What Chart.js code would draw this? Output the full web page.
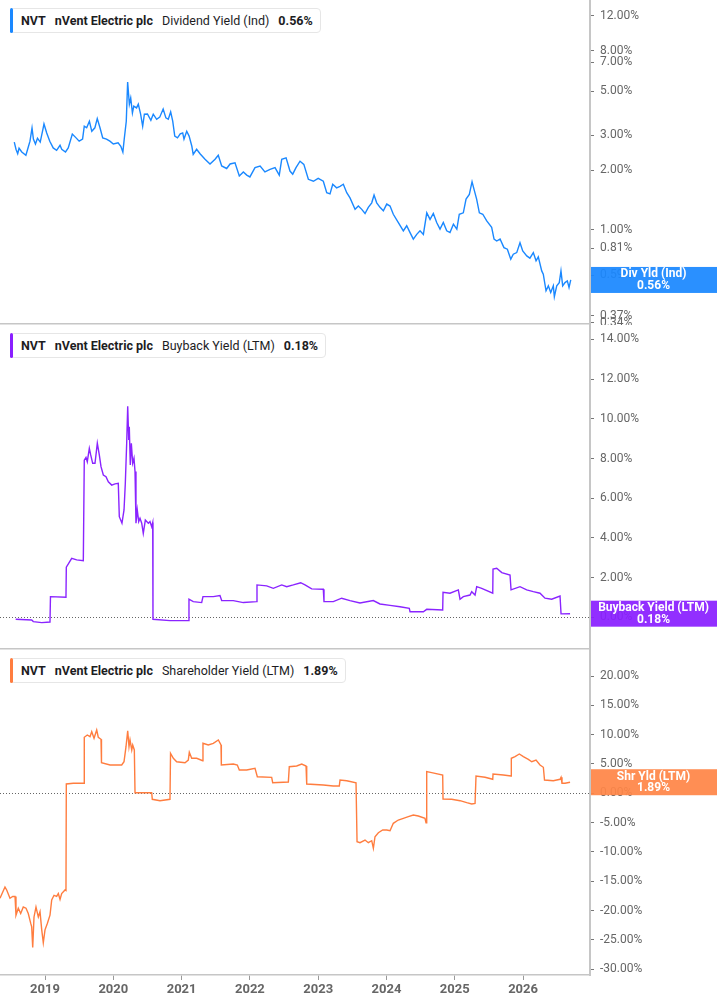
<!DOCTYPE html>
<html>
<head>
<meta charset="utf-8">
<title>NVT yields</title>
<script src="https://cdn.jsdelivr.net/npm/chart.js@4.4.1/dist/chart.umd.min.js"></script>
<style>
  html, body { margin: 0; padding: 0; background: #fff; }
  body { width: 717px; height: 1005px; position: relative; overflow: hidden; font-family: Roboto, "Open Sans", sans-serif; }
  .panel { position: absolute; left: 0; width: 717px; }
  .legend { position: absolute; left: 10px; height: 25px; box-sizing: border-box; border: 1px solid #e6e6e6; border-radius: 4px;
            background: #fff; display: flex; align-items: center; padding: 0 7px 0 10px; font-size: 12.5px; color: #1d1d1f; white-space: nowrap; }
  .legend i { position: absolute; left: -1px; top: -1px; bottom: -1px; width: 3px; border-radius: 2px; }
  .legend b, .legend span { margin-right: 9px; }
  .legend b { font-weight: 700; }
  .legend span { font-weight: 400; }
  .legend .v { margin-right: 0; }
</style>
</head>
<body>
<div class="panel" style="top:0;height:325px"><canvas id="divChart"></canvas></div>
<div class="panel" style="top:325px;height:325px"><canvas id="bbChart"></canvas></div>
<div class="panel" style="top:650px;height:355px"><canvas id="shChart"></canvas></div>

<div class="legend" style="top:8px"><i style="background:#1a88ff"></i><b>NVT</b><b>nVent Electric plc</b><span>Dividend Yield (Ind)</span><b class="v">0.56%</b></div>
<div class="legend" style="top:333px"><i style="background:#8a1fff"></i><b>NVT</b><b>nVent Electric plc</b><span>Buyback Yield (LTM)</span><b class="v">0.18%</b></div>
<div class="legend" style="top:658px"><i style="background:#ff7d3f"></i><b>NVT</b><b>nVent Electric plc</b><span>Shareholder Yield (LTM)</span><b class="v">1.89%</b></div>

<script>
// x axis (decimal years)
const yearTicks = [2019, 2020, 2021, 2022, 2023, 2024, 2025, 2026];

// dividend yield (ind), %
const divYears = [
  2018.55,2018.575,2018.60,2018.62,2018.66,2018.72,2018.75,2018.78,2018.81,2018.83,
  2018.86,2018.89,2018.93,2018.97,2018.985,2019.025,2019.07,2019.12,2019.17,2019.22,
  2019.245,2019.30,2019.34,2019.40,2019.455,2019.50,2019.55,2019.575,2019.61,2019.65,
  2019.685,2019.73,2019.765,2019.805,2019.845,2019.90,2019.95,2020.00,2020.07,2020.11,
  2020.14,2020.16,2020.19,2020.21,2020.235,2020.255,2020.28,2020.30,2020.34,2020.366,
  2020.40,2020.43,2020.455,2020.50,2020.55,2020.585,2020.635,2020.68,2020.73,2020.77,
  2020.805,2020.84,2020.87,2020.90,2020.94,2020.98,2021.016,2021.035,2021.075,2021.11,
  2021.15,2021.17,2021.22,2021.27,2021.343,2021.416,2021.49,2021.537,2021.587,2021.66,
  2021.71,2021.782,2021.845,2021.904,2021.954,2022.00,2022.075,2022.15,2022.22,2022.295,
  2022.368,2022.43,2022.466,2022.53,2022.587,2022.627,2022.675,2022.734,2022.79,2022.856,
  2022.93,2023.00,2023.075,2023.125,2023.173,2023.213,2023.27,2023.32,2023.368,2023.418,
  2023.466,2023.54,2023.588,2023.638,2023.686,2023.734,2023.784,2023.818,2023.857,2023.905,
  2023.954,2024.004,2024.052,2024.10,2024.174,2024.247,2024.296,2024.345,2024.393,2024.443,
  2024.491,2024.54,2024.59,2024.638,2024.686,2024.735,2024.784,2024.832,2024.882,2024.93,
  2024.98,2025.03,2025.066,2025.125,2025.165,2025.213,2025.253,2025.282,2025.32,2025.36,
  2025.41,2025.468,2025.54,2025.575,2025.614,2025.663,2025.72,2025.77,2025.82,2025.857,
  2025.907,2025.955,2025.995,2026.054,2026.10,2026.15,2026.19,2026.223,2026.273,2026.296,
  2026.336,2026.37,2026.405,2026.443,2026.458,2026.493,2026.53,2026.555,2026.58,2026.614,
  2026.648,2026.673,2026.698
];
const divValues = [
  2.77,2.55,2.42,2.58,2.47,2.38,2.58,2.80,3.26,2.87,
  2.71,2.90,2.77,3.22,3.42,3.08,2.80,2.59,2.52,2.67,
  2.55,2.47,2.59,3.04,2.91,2.80,2.87,3.33,3.27,3.53,
  3.14,3.27,3.64,3.27,2.91,2.87,2.80,2.71,2.75,2.64,
  2.47,2.87,3.53,5.56,4.30,4.62,3.88,4.20,4.12,4.30,
  3.83,3.33,3.83,3.84,3.57,3.83,3.61,3.70,4.07,3.67,
  3.61,3.93,3.53,2.97,2.91,3.05,3.08,2.87,3.14,2.97,
  2.64,2.40,2.55,2.42,2.27,2.15,2.27,2.38,2.10,2.04,
  2.15,2.18,1.87,1.96,1.89,1.85,2.06,2.10,1.96,2.02,
  2.06,1.89,2.27,2.31,1.98,1.91,2.06,2.22,2.14,1.80,
  1.76,1.82,1.76,1.54,1.52,1.70,1.63,1.66,1.70,1.54,
  1.45,1.27,1.32,1.27,1.21,1.30,1.37,1.50,1.37,1.30,
  1.25,1.35,1.32,1.20,1.09,0.99,1.05,0.97,0.90,0.95,
  0.99,0.95,1.22,1.13,1.21,1.09,1.01,1.09,0.99,0.97,
  1.07,1.01,1.20,1.22,1.43,1.51,1.75,1.60,1.43,1.22,
  1.20,1.11,1.03,0.90,0.88,0.90,0.815,0.80,0.713,0.755,
  0.769,0.863,0.784,0.740,0.721,0.769,0.699,0.732,0.622,0.599,
  0.494,0.523,0.484,0.523,0.461,0.523,0.543,0.622,0.523,0.543,
  0.554,0.513,0.56
];
const divTicks = [12, 8, 7, 5, 3, 2, 1, 0.81, 0.59, 0.37, 0.34];

// buyback yield (LTM), %
const bbYears = [
  2018.571,2018.805,2018.829,2018.952,2019.073,2019.080,2019.307,2019.312,2019.391,2019.464,
  2019.561,2019.575,2019.600,2019.619,2019.649,2019.669,2019.698,2019.732,2019.766,2019.795,
  2019.820,2019.854,2019.893,2019.927,2019.977,2020.025,2020.073,2020.088,2020.127,2020.157,
  2020.176,2020.196,2020.211,2020.226,2020.234,2020.249,2020.264,2020.284,2020.303,2020.318,
  2020.332,2020.351,2020.372,2020.391,2020.416,2020.439,2020.469,2020.513,2020.537,2020.562,
  2020.577,2020.581,2020.830,2021.098,2021.108,2021.171,2021.294,2021.313,2021.464,2021.562,
  2021.587,2021.757,2021.904,2022.100,2022.104,2022.246,2022.343,2022.466,2022.539,2022.636,
  2022.744,2022.807,2022.905,2023.075,2023.085,2023.221,2023.344,2023.466,2023.612,2023.807,
  2023.905,2024.052,2024.198,2024.334,2024.345,2024.540,2024.589,2024.823,2024.828,2024.930,
  2025.052,2025.077,2025.125,2025.223,2025.248,2025.297,2025.321,2025.394,2025.556,2025.560,
  2025.614,2025.688,2025.809,2025.824,2025.955,2026.053,2026.150,2026.248,2026.321,2026.419,
  2026.541,2026.556,2026.688
];
const bbValues = [
  -0.10,-0.14,-0.22,-0.27,-0.24,1.04,1.01,2.52,2.97,2.89,
  2.85,7.92,8.06,7.84,8.51,8.18,7.76,7.76,8.77,8.18,
  7.59,7.17,7.08,6.83,6.66,6.72,6.75,5.07,4.74,5.41,
  6.75,8.77,10.64,8.93,9.60,7.67,8.77,7.76,8.01,7.34,
  4.74,5.41,4.82,4.99,4.74,4.23,4.90,4.74,4.82,4.56,
  4.77,-0.10,-0.17,-0.17,0.91,0.79,0.74,1.04,1.04,1.09,
  0.84,0.84,0.74,0.79,1.63,1.58,1.46,1.63,1.54,1.63,
  1.74,1.63,1.43,1.41,0.79,0.79,0.96,0.84,0.72,0.84,
  0.67,0.60,0.53,0.45,0.28,0.28,0.40,0.37,1.26,1.21,
  1.38,0.91,1.04,1.12,1.29,1.12,1.54,1.46,1.21,2.43,
  2.47,2.25,2.13,1.38,1.54,1.38,1.29,1.21,0.96,0.91,
  1.07,0.17,0.18
];
const bbTicks = [0, 2, 4, 6, 8, 10, 12, 14];

// shareholder yield (LTM), %
const shYears = [
  2018.341,2018.414,2018.439,2018.487,2018.527,2018.561,2018.575,2018.609,2018.644,2018.682,
  2018.722,2018.755,2018.791,2018.805,2018.820,2018.839,2018.868,2018.902,2018.927,2018.952,
  2018.975,2019.000,2019.034,2019.073,2019.098,2019.132,2019.171,2019.195,2019.220,2019.244,
  2019.293,2019.307,2019.312,2019.414,2019.571,2019.575,2019.619,2019.659,2019.684,2019.718,
  2019.757,2019.780,2019.820,2019.827,2019.952,2020.123,2020.157,2020.186,2020.211,2020.230,
  2020.245,2020.270,2020.284,2020.308,2020.318,2020.562,2020.571,2020.684,2020.830,2020.838,
  2020.879,2020.928,2021.050,2021.098,2021.113,2021.148,2021.221,2021.309,2021.313,2021.391,
  2021.464,2021.538,2021.577,2021.582,2021.757,2021.816,2021.845,2021.953,2022.075,2022.109,
  2022.319,2022.334,2022.563,2022.577,2022.685,2022.759,2022.822,2022.832,2023.075,2023.221,
  2023.309,2023.320,2023.418,2023.554,2023.569,2023.612,2023.686,2023.734,2023.784,2023.808,
  2023.832,2023.881,2023.945,2024.004,2024.052,2024.100,2024.173,2024.247,2024.320,2024.393,
  2024.466,2024.564,2024.579,2024.589,2024.662,2024.823,2024.828,2024.955,2025.077,2025.175,
  2025.248,2025.297,2025.311,2025.443,2025.556,2025.560,2025.711,2025.824,2025.828,2025.882,
  2025.945,2026.004,2026.077,2026.127,2026.190,2026.248,2026.297,2026.314,2026.443,2026.541,
  2026.556,2026.570,2026.614,2026.688
];
const shValues = [
  -17.9,-16.0,-16.5,-17.9,-17.6,-17.6,-20.8,-19.6,-20.5,-19.4,
  -19.6,-20.5,-22.2,-22.8,-26.3,-21.1,-19.4,-21.1,-20.2,-23.3,
  -25.5,-23.3,-22.2,-20.8,-18.2,-17.4,-17.6,-17.1,-18.1,-17.1,
  -16.5,-16.6,1.59,1.71,1.71,9.56,9.95,9.66,10.51,9.39,
  10.80,9.56,9.22,5.22,4.83,4.83,5.39,7.95,10.68,7.95,
  9.10,7.39,8.24,7.39,0.10,0.10,-1.02,-1.26,-1.02,6.83,
  5.97,5.39,5.22,5.68,7.00,5.97,5.97,5.56,8.53,8.24,
  8.53,9.10,8.24,4.83,5.00,4.83,3.98,3.98,4.27,2.83,
  2.73,1.81,1.93,4.54,4.66,5.00,4.66,1.59,1.42,1.25,
  1.25,2.27,2.15,1.81,-8.26,-8.43,-7.97,-8.43,-8.09,-9.39,
  -7.41,-6.72,-6.26,-6.26,-6.38,-5.12,-4.56,-4.27,-3.99,-3.70,
  -3.87,-4.27,-5.02,3.69,3.52,3.12,-0.97,-1.02,-1.26,-1.60,
  -1.83,-1.71,2.95,2.73,2.39,3.29,3.12,2.95,5.97,6.25,
  6.71,6.25,5.80,5.39,5.68,4.83,4.44,2.27,2.15,2.39,
  2.73,1.71,1.71,1.89
];
const shTicks = [20, 15, 10, 5, 0, -5, -10, -15, -20, -25, -30];

const AXIS_W = 127;
const GREY_LINE = '#c6c6c6';

Chart.defaults.font.family = 'Roboto, "Open Sans", sans-serif';

// dotted zero line + coloured last-value tag on the right axis
const lastValue = {
  id: 'lastValue',
  beforeDatasetsDraw(chart, args, opts) {
    if (!opts.zeroLine) return;
    const { ctx, chartArea } = chart;
    const py = Math.round(chart.scales.y.getPixelForValue(0)) + 0.5;
    ctx.save();
    ctx.strokeStyle = '#666';
    ctx.lineWidth = 1;
    ctx.setLineDash([1, 2]);
    ctx.beginPath();
    ctx.moveTo(chartArea.left, py);
    ctx.lineTo(chartArea.right, py);
    ctx.stroke();
    ctx.restore();
  },
  afterDatasetsDraw(chart, args, opts) {
    const { ctx, chartArea } = chart;
    const pts = chart.data.datasets[0].data;
    const last = pts[pts.length - 1].y;
    const py = chart.scales.y.getPixelForValue(last);
    const cx = (chartArea.right + chart.width) / 2;
    ctx.save();
    ctx.globalAlpha = 0.93;
    ctx.fillStyle = opts.color;
    ctx.fillRect(chartArea.right + 1, py - 13, chart.width - chartArea.right, 26);
    ctx.globalAlpha = 1;
    ctx.fillStyle = '#fff';
    ctx.font = 'bold 12px Roboto, "Open Sans", sans-serif';
    ctx.textAlign = 'center';
    ctx.textBaseline = 'middle';
    ctx.fillText(opts.label, cx, py - 5.5);
    ctx.fillText(last.toFixed(2) + '%', cx, py + 6);
    ctx.restore();
  }
};

function makeChart(id, cfg) {
  const data = cfg.years.map((x, i) => ({ x: x, y: cfg.values[i] }));
  return new Chart(document.getElementById(id), {
    type: 'line',
    data: {
      datasets: [{
        data: data,
        borderColor: cfg.color,
        borderWidth: 1.4,
        pointRadius: 0,
        tension: 0
      }]
    },
    options: {
      responsive: true,
      maintainAspectRatio: false,
      animation: false,
      layout: { padding: 0 },
      plugins: {
        legend: { display: false },
        tooltip: { enabled: false },
        lastValue: { color: cfg.tag, label: cfg.label, zeroLine: cfg.zeroLine }
      },
      scales: {
        x: {
          type: 'linear',
          bounds: 'data',
          min: 2018.341,
          max: 2026.98,
          afterBuildTicks: s => { s.ticks = yearTicks.map(v => ({ value: v })); },
          afterFit: s => { s.height = cfg.showYears ? 30 : 1; },
          ticks: {
            display: cfg.showYears,
            autoSkip: false,
            maxRotation: 0,
            padding: 2,
            color: '#666',
            font: { size: 13, weight: 'bold' },
            callback: v => String(v)
          },
          grid: { display: cfg.showYears, drawOnChartArea: false, tickLength: 5, color: '#999' },
          border: { color: GREY_LINE, width: 1.5 }
        },
        y: {
          type: cfg.log ? 'logarithmic' : 'linear',
          position: 'right',
          bounds: 'data',
          min: cfg.min,
          max: cfg.max,
          afterBuildTicks: s => { s.ticks = cfg.ticks.map(v => ({ value: v })); },
          afterFit: s => { s.width = AXIS_W; s.paddingTop = 0; s.paddingBottom = 0; },
          ticks: {
            autoSkip: false,
            padding: 6,
            color: '#666',
            font: { size: 12 },
            callback: v => Number(v).toFixed(2) + '%'
          },
          grid: { drawOnChartArea: false, tickLength: 4, color: '#777' },
          border: { color: GREY_LINE, width: 2 }
        }
      }
    },
    plugins: [lastValue]
  });
}

makeChart('divChart', {
  years: divYears, values: divValues, ticks: divTicks,
  log: true, min: 0.336, max: 14.4,
  color: '#1a88ff', tag: '#1a88ff', label: 'Div Yld (Ind)',
  zeroLine: false, showYears: false
});

makeChart('bbChart', {
  years: bbYears, values: bbValues, ticks: bbTicks,
  log: false, min: -1.6, max: 14.73,
  color: '#8a24ff', tag: '#8a1fff', label: 'Buyback Yield (LTM)',
  zeroLine: true, showYears: false
});

makeChart('shChart', {
  years: shYears, values: shValues, ticks: shTicks,
  log: false, min: -31.0, max: 24.45,
  color: '#ff7d3f', tag: '#ff8547', label: 'Shr Yld (LTM)',
  zeroLine: true, showYears: true
});
</script>
</body>
</html>
